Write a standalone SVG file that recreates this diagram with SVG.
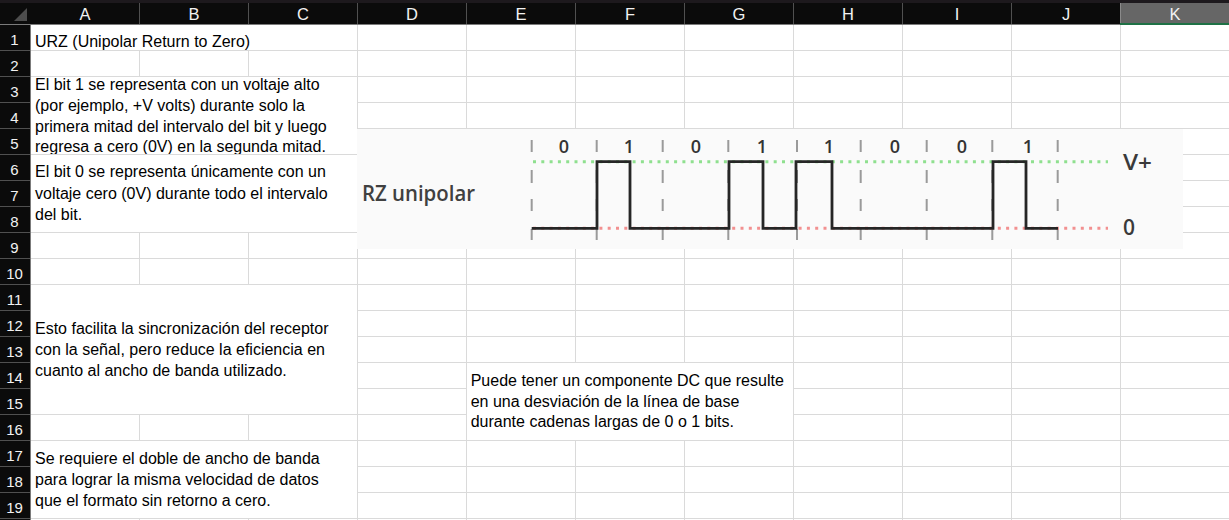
<svg xmlns="http://www.w3.org/2000/svg" width="1229" height="520" viewBox="0 0 1229 520">
<defs>
<style>
.grid{stroke:#dadada;stroke-width:1;fill:none}
.cell{font-family:"Liberation Sans",Arial,sans-serif;font-size:16px;fill:#000}
.hdr{font-family:"Liberation Sans",Arial,sans-serif;font-size:16.5px;fill:#f2f2f2;text-anchor:middle}
.rn{font-family:"Liberation Sans",Arial,sans-serif;font-size:15px;fill:#f2f2f2;text-anchor:middle}
.hsep{stroke:#505050;stroke-width:1}
.box{fill:#ffffff}
.tick{stroke:#9a9a9a;stroke-width:2;stroke-dasharray:12 18 13 16 12 18 11 100;fill:none}
.lbl{font-family:"Open Sans","Noto Sans",sans-serif;font-size:18px;font-weight:600;fill:#333;text-anchor:middle}
.lvl{font-family:"Open Sans","Noto Sans",sans-serif;font-size:21px;font-weight:600;fill:#3a3a3a}
.sig{stroke:#262626;stroke-width:2.8;fill:none;stroke-linejoin:miter}
</style>
<clipPath id="clipBox1"><rect x="30" y="77" width="327" height="77"/></clipPath>
</defs>
<rect x="0" y="0" width="1229" height="520" fill="#ffffff"/>

<g id="gridlines" class="grid">
<path d="M139.5 24V520M248.5 24V520M357.5 24V520M466.5 24V520M575.5 24V520M684.5 24V520M793.5 24V520M902.5 24V520M1011.5 24V520M1120.5 24V520"/>
<path d="M30 50.5H1229M30 76.5H1229M30 102.5H1229M30 128.5H1229M30 154.5H1229M30 180.5H1229M30 206.5H1229M30 232.5H1229M30 258.5H1229M30 284.5H1229M30 310.5H1229M30 336.5H1229M30 362.5H1229M30 388.5H1229M30 414.5H1229M30 440.5H1229M30 466.5H1229M30 492.5H1229M30 518.5H1229"/>
</g>

<g id="header">
<rect x="0" y="0" width="1229" height="24" fill="#0b0b0b"/>
<rect x="0" y="0" width="1229" height="3" fill="#1d191d"/>
<rect x="1120" y="3" width="109" height="21" fill="#666666"/>
<path class="hsep" d="M139.5 3V24M248.5 3V24M357.5 3V24M466.5 3V24M575.5 3V24M684.5 3V24M793.5 3V24M902.5 3V24M1011.5 3V24"/>
<path d="M1120.5 3V24" stroke="#8a8a8a" stroke-width="1"/>
<path d="M0 24.5H1120" stroke="#7b7b7b" stroke-width="1"/>
<rect x="1120" y="23" width="109" height="2" fill="#1e7145"/>
<polygon points="14,21 27,21 27,8" fill="#4d4d4d"/>
<text class="hdr" x="85" y="20">A</text>
<text class="hdr" x="194" y="20">B</text>
<text class="hdr" x="303" y="20">C</text>
<text class="hdr" x="412" y="20">D</text>
<text class="hdr" x="521" y="20">E</text>
<text class="hdr" x="630" y="20">F</text>
<text class="hdr" x="739" y="20">G</text>
<text class="hdr" x="848" y="20">H</text>
<text class="hdr" x="957" y="20">I</text>
<text class="hdr" x="1066" y="20">J</text>
<text class="hdr" x="1175" y="20">K</text>
</g>

<g id="rownumbers">
<rect x="0" y="25" width="30" height="495" fill="#0b0b0b"/>
<path class="hsep" d="M0 50.5H30M0 76.5H30M0 102.5H30M0 128.5H30M0 154.5H30M0 180.5H30M0 206.5H30M0 232.5H30M0 258.5H30M0 284.5H30M0 310.5H30M0 336.5H30M0 362.5H30M0 388.5H30M0 414.5H30M0 440.5H30M0 466.5H30M0 492.5H30M0 518.5H30"/>
<path d="M30.5 24V520" stroke="#7b7b7b" stroke-width="1"/>
<text class="rn" x="14.5" y="45">1</text>
<text class="rn" x="14.5" y="71">2</text>
<text class="rn" x="14.5" y="97">3</text>
<text class="rn" x="14.5" y="123">4</text>
<text class="rn" x="14.5" y="149">5</text>
<text class="rn" x="14.5" y="175">6</text>
<text class="rn" x="14.5" y="201">7</text>
<text class="rn" x="14.5" y="227">8</text>
<text class="rn" x="14.5" y="253">9</text>
<text class="rn" x="14.5" y="279">10</text>
<text class="rn" x="14.5" y="305">11</text>
<text class="rn" x="14.5" y="331">12</text>
<text class="rn" x="14.5" y="357">13</text>
<text class="rn" x="14.5" y="383">14</text>
<text class="rn" x="14.5" y="409">15</text>
<text class="rn" x="14.5" y="435">16</text>
<text class="rn" x="14.5" y="461">17</text>
<text class="rn" x="14.5" y="487">18</text>
<text class="rn" x="14.5" y="513">19</text>
</g>

<g id="title">
<rect class="box" x="31" y="25" width="326" height="25"/>
<text class="cell" x="35" y="46.5">URZ (Unipolar Return to Zero)</text>
</g>

<g id="bit1-text">
<rect class="box" x="31" y="77" width="326" height="77"/>
<g clip-path="url(#clipBox1)">
<text class="cell" x="35" y="90">El bit 1 se representa con un voltaje alto</text>
<text class="cell" x="35" y="111">(por ejemplo, +V volts) durante solo la</text>
<text class="cell" x="35" y="131.5">primera mitad del intervalo del bit y luego</text>
<text class="cell" x="35" y="152">regresa a cero (0V) en la segunda mitad.</text>
</g>
</g>

<g id="bit0-text">
<rect class="box" x="31" y="155" width="326" height="77"/>
<text class="cell" x="35" y="177">El bit 0 se representa únicamente con un</text>
<text class="cell" x="35" y="198.5">voltaje cero (0V) durante todo el intervalo</text>
<text class="cell" x="35" y="220">del bit.</text>
</g>

<g id="sync-text">
<rect class="box" x="31" y="285" width="326" height="129"/>
<text class="cell" x="35" y="334">Esto facilita la sincronización del receptor</text>
<text class="cell" x="35" y="355">con la señal, pero reduce la eficiencia en</text>
<text class="cell" x="35" y="375.7">cuanto al ancho de banda utilizado.</text>
</g>

<g id="bandwidth-text">
<rect class="box" x="31" y="441" width="326" height="77"/>
<text class="cell" x="35" y="464">Se requiere el doble de ancho de banda</text>
<text class="cell" x="35" y="485">para lograr la misma velocidad de datos</text>
<text class="cell" x="35" y="505.7">que el formato sin retorno a cero.</text>
</g>

<g id="dc-text">
<rect class="box" x="467" y="363" width="326" height="77"/>
<text class="cell" x="470.7" y="386">Puede tener un componente DC que resulte</text>
<text class="cell" x="470.7" y="406.5">en una desviación de la línea de base</text>
<text class="cell" x="470.7" y="427">durante cadenas largas de 0 o 1 bits.</text>
</g>

<g id="rz-diagram">
<rect x="357" y="129" width="826" height="120" fill="#fafafa"/>
<text class="lvl" x="362" y="201" textLength="113" lengthAdjust="spacingAndGlyphs" style="fill:#404040">RZ unipolar</text>
<g id="ticks" class="tick">
<path d="M531.7 140V240M596.7 140V240M662.7 140V240M728.3 140V240M797 140V240M860.7 140V240M926.7 140V240M992.3 140V240M1057.7 140V240"/>
</g>
<path d="M533 161.7H1108" stroke="#8fe08f" stroke-width="3" stroke-dasharray="3 5.3" fill="none"/>
<path d="M533 228.3H1108" stroke="#f29090" stroke-width="3" stroke-dasharray="3 5.3" fill="none"/>
<g id="signal">
<path class="sig" d="M531.7 228.3H597V161.7H630V228.3H729V161.7H763V228.3H796V161.7H832V228.3H993V161.7H1026V228.3H1058"/>
</g>
<g id="bit-labels">
<text class="lbl" x="564" y="153">0</text>
<text class="lbl" x="629" y="153">1</text>
<text class="lbl" x="696" y="153">0</text>
<text class="lbl" x="762" y="153">1</text>
<text class="lbl" x="829" y="153">1</text>
<text class="lbl" x="895" y="153">0</text>
<text class="lbl" x="962" y="153">0</text>
<text class="lbl" x="1028" y="153">1</text>
</g>
<text class="lvl" x="1123" y="170" textLength="29" lengthAdjust="spacingAndGlyphs">V+</text>
<text class="lvl" x="1123" y="235">0</text>
</g>
</svg>
